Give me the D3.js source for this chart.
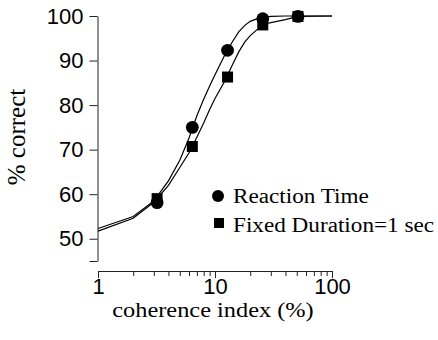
<!DOCTYPE html>
<html>
<head>
<meta charset="utf-8">
<script src="https://cdn.jsdelivr.net/npm/d3@7"></script>
<style>
  body { margin: 0; background: #fff; }
  #chart { width: 438px; height: 340px; }
</style>
</head>
<body>
<div id="chart"></div>
<script>

// DATA

const cohLevels = [3.2, 6.4, 12.8, 25.6, 51.2];
const rtCorrect = [58.1, 75.0, 92.3, 99.4, 99.9];
const fdCorrect = [59.0, 70.7, 86.3, 98.0, 99.9];

// fitted curves
const fitCoh = [1, 2, 3, 4, 5, 6, 7, 8, 9, 10, 12, 14, 16, 18, 20, 23, 26, 30, 40, 51.2, 100];
const rtFit = [52.3, 55.0, 58.5, 63.0, 67.6, 72.6, 77.6, 81.3, 84.3, 86.8, 91.0, 94.1, 96.5, 97.9, 98.8, 99.4, 99.7, 99.9, 100, 100, 100];
const fdFit = [51.7, 54.6, 58.2, 62.0, 66.0, 69.3, 72.8, 76.0, 79.0, 81.5, 85.2, 88.9, 92.0, 94.2, 95.6, 97.0, 98.1, 98.5, 99.2, 99.9, 100];

const yTicks = [45, 50, 60, 70, 80, 90, 100];
const xTicks = [1, 2, 3, 4, 5, 6, 7, 8, 9, 10, 20, 30, 40, 50, 60, 70, 80, 90, 100];
const xMajor = [1, 10, 100];
const legendLabels = ["Reaction Time", "Fixed Duration=1 sec"];

const serifFont = "'Liberation Serif', 'DejaVu Serif', 'Times New Roman', serif";
const sansFont = "'Liberation Sans', Arial, sans-serif";

// SVG CANVAS

const width = 438;
const height = 340;

const svg = d3.select("#chart")
    .append("svg")
    .attr("width", width)
    .attr("height", height);

// SCALES

const xScale = d3.scaleLog()
    .domain([1, 100])
    .range([98, 332]);

const yScale = d3.scaleLinear()
    .domain([45, 100])
    .range([261, 16]);

// AXES

const yAxis = svg.append("g")
    .attr("transform", "translate(97.5,0)")
    .call(d3.axisLeft(yScale)
        .tickValues(yTicks)
        .tickSize(8)
        .tickSizeOuter(0)
        .tickPadding(6)
        .tickFormat(function(d) { return d === 45 ? "" : d; }));

const xAxis = svg.append("g")
    .attr("transform", "translate(0,271)")
    .call(d3.axisBottom(xScale)
        .tickValues(xTicks)
        .tickSize(5)
        .tickSizeOuter(0)
        .tickPadding(2)
        .tickFormat(function(d) { return xMajor.includes(d) ? d : ""; }));

xAxis.selectAll(".tick line")
    .attr("y2", function(d) { return xMajor.includes(d) ? 7 : 5; });

svg.selectAll(".domain, .tick line")
    .attr("stroke", "#222")
    .attr("stroke-width", 1);

svg.selectAll(".tick text")
    .attr("font-family", sansFont)
    .attr("font-size", 22)
    .attr("fill", "#000");

// CURVES

const line = d3.line()
    .x(function(d) { return xScale(d[0]); })
    .y(function(d) { return yScale(d[1]); });

const fits = [
    fitCoh.map(function(c, i) { return [c, rtFit[i]]; }),
    fitCoh.map(function(c, i) { return [c, fdFit[i]]; })
];

svg.selectAll(".fit")
    .data(fits)
    .enter()
    .append("path")
        .attr("class", "fit")
        .attr("d", line)
        .attr("fill", "none")
        .attr("stroke", "#000")
        .attr("stroke-width", 1.2);

// POINTS

const sq = 11;

svg.selectAll(".fd")
    .data(cohLevels)
    .enter()
    .append("rect")
        .attr("class", "fd")
        .attr("x", function(d) { return xScale(d) - sq / 2; })
        .attr("y", function(d, i) { return yScale(fdCorrect[i]) - sq / 2; })
        .attr("width", sq)
        .attr("height", sq)
        .attr("fill", "#000");

svg.selectAll(".rt")
    .data(cohLevels)
    .enter()
    .append("circle")
        .attr("class", "rt")
        .attr("cx", function(d) { return xScale(d); })
        .attr("cy", function(d, i) { return yScale(rtCorrect[i]); })
        .attr("r", 6.4)
        .attr("fill", "#000");

// LEGEND

svg.append("circle")
    .attr("cx", 218)
    .attr("cy", 196)
    .attr("r", 6)
    .attr("fill", "#000");

svg.append("rect")
    .attr("x", 214)
    .attr("y", 218)
    .attr("width", 10)
    .attr("height", 10)
    .attr("fill", "#000");

svg.selectAll(".legendText")
    .data(legendLabels)
    .enter()
    .append("text")
        .attr("class", "legendText")
        .attr("transform", function(d, i) { return `translate(233,${202.5 + i * 29}) scale(1.16,1)`; })
        .attr("font-family", serifFont)
        .attr("font-size", 20)
        .attr("fill", "#000")
        .text(function(d) { return d; });

// AXIS LABELS

svg.append("text")
    .attr("transform", "translate(213,317) scale(1.16,1)")
    .attr("text-anchor", "middle")
    .attr("font-family", serifFont)
    .attr("font-size", 21)
    .attr("fill", "#000")
    .text("coherence index (%)");

svg.append("text")
    .attr("transform", "translate(25,137) rotate(-90)")
    .attr("text-anchor", "middle")
    .attr("font-family", serifFont)
    .attr("font-size", 25)
    .attr("fill", "#000")
    .text("% correct");

</script>
</body>
</html>
